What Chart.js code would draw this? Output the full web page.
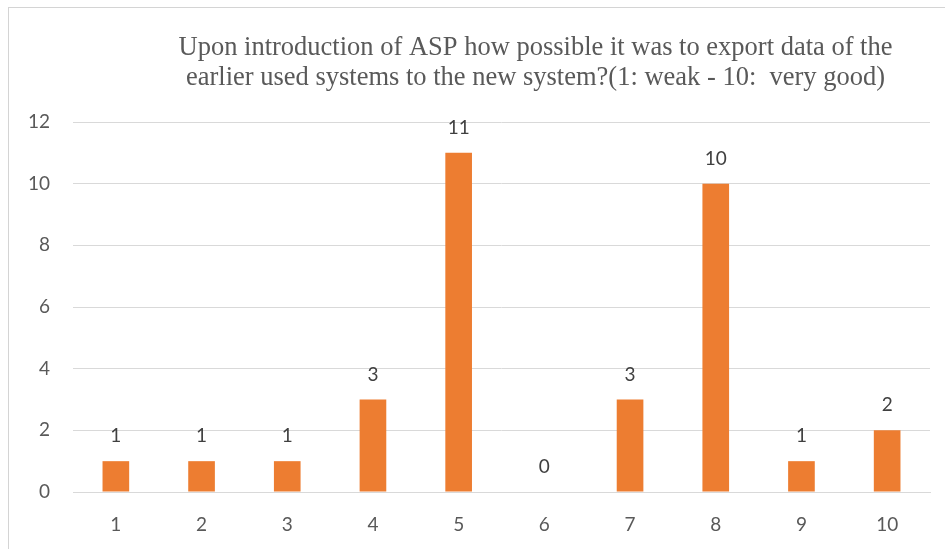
<!DOCTYPE html>
<html>
<head>
<meta charset="utf-8">
<script src="https://cdn.jsdelivr.net/npm/chart.js@4"></script>
<style>
  html, body { margin: 0; padding: 0; background: #ffffff; overflow: hidden; }
  #wrap { position: relative; width: 945px; height: 549px; }
  #frame { position: absolute; left: 8px; top: 7px; width: 960px; height: 560px;
           border-left: 1px solid #d4d4d4; border-top: 1px solid #d4d4d4; box-sizing: border-box; }
  canvas { position: absolute; left: 0; top: 0; }
</style>
</head>
<body>
<div id="wrap">
  <div id="frame"></div>
  <canvas id="chart" width="945" height="549"></canvas>
</div>
<script>
// Rating scale (1: weak - 10: very good) and number of answers per rating
const categories = ['1', '2', '3', '4', '5', '6', '7', '8', '9', '10'];
const answers = [1, 1, 1, 3, 11, 0, 3, 10, 1, 2];
const yTicks = [0, 2, 4, 6, 8, 10, 12];
const titleLines = [
  'Upon introduction of ASP how possible it was to export data of the',
  'earlier used systems to the new system?(1: weak - 10:  very good)'
];

const labelFont = '19px Lato, "Open Sans", sans-serif';

// Two-line serif heading above the plot
const headingPlugin = {
  id: 'heading',
  afterDraw(chart) {
    const ctx = chart.ctx;
    const cx = (chart.chartArea.left + chart.chartArea.right) / 2 + 34;
    ctx.save();
    ctx.font = '26.5px "Liberation Serif", "Times New Roman", serif';
    ctx.fillStyle = '#595959';
    ctx.textAlign = 'center';
    ctx.textBaseline = 'alphabetic';
    titleLines.forEach((line, i) => ctx.fillText(line, cx, 55 + i * 30));
    ctx.restore();
  }
};

// Value printed above each bar
const valueLabels = {
  id: 'valueLabels',
  afterDatasetsDraw(chart) {
    const ctx = chart.ctx;
    const meta = chart.getDatasetMeta(0);
    ctx.save();
    ctx.font = labelFont;
    ctx.fillStyle = '#404040';
    ctx.textAlign = 'center';
    ctx.textBaseline = 'middle';
    meta.data.forEach((bar, i) => {
      ctx.fillText(String(answers[i]), bar.x, bar.y - 25);
    });
    ctx.restore();
  }
};

new Chart(document.getElementById('chart'), {
  type: 'bar',
  data: {
    labels: categories,
    datasets: [{
      data: answers,
      backgroundColor: '#ED7D31',
      borderWidth: 0,
      barPercentage: 0.311,
      categoryPercentage: 1.0
    }]
  },
  options: {
    responsive: false,
    animation: false,
    layout: { padding: { top: 122, right: 15, left: 0, bottom: 0 } },
    plugins: {
      legend: { display: false },
      title: { display: false },
      tooltip: { enabled: false }
    },
    scales: {
      x: {
        grid: { display: false, drawTicks: false },
        border: { display: true, color: '#d9d9d9', width: 1 },
        ticks: { color: '#595959', font: { family: 'Lato, "Open Sans", sans-serif', size: 19 }, padding: 21 },
        afterFit(scale) { scale.height = 57; }
      },
      y: {
        min: 0,
        max: 12,
        afterBuildTicks(scale) { scale.ticks = yTicks.map(v => ({ value: v })); },
        grid: { color: '#d9d9d9', lineWidth: 1, drawTicks: false },
        border: { display: false },
        ticks: { color: '#595959', font: { family: 'Lato, "Open Sans", sans-serif', size: 19 }, padding: 23 },
        afterFit(scale) { scale.width = 73; }
      }
    }
  },
  plugins: [headingPlugin, valueLabels]
});
</script>
</body>
</html>
